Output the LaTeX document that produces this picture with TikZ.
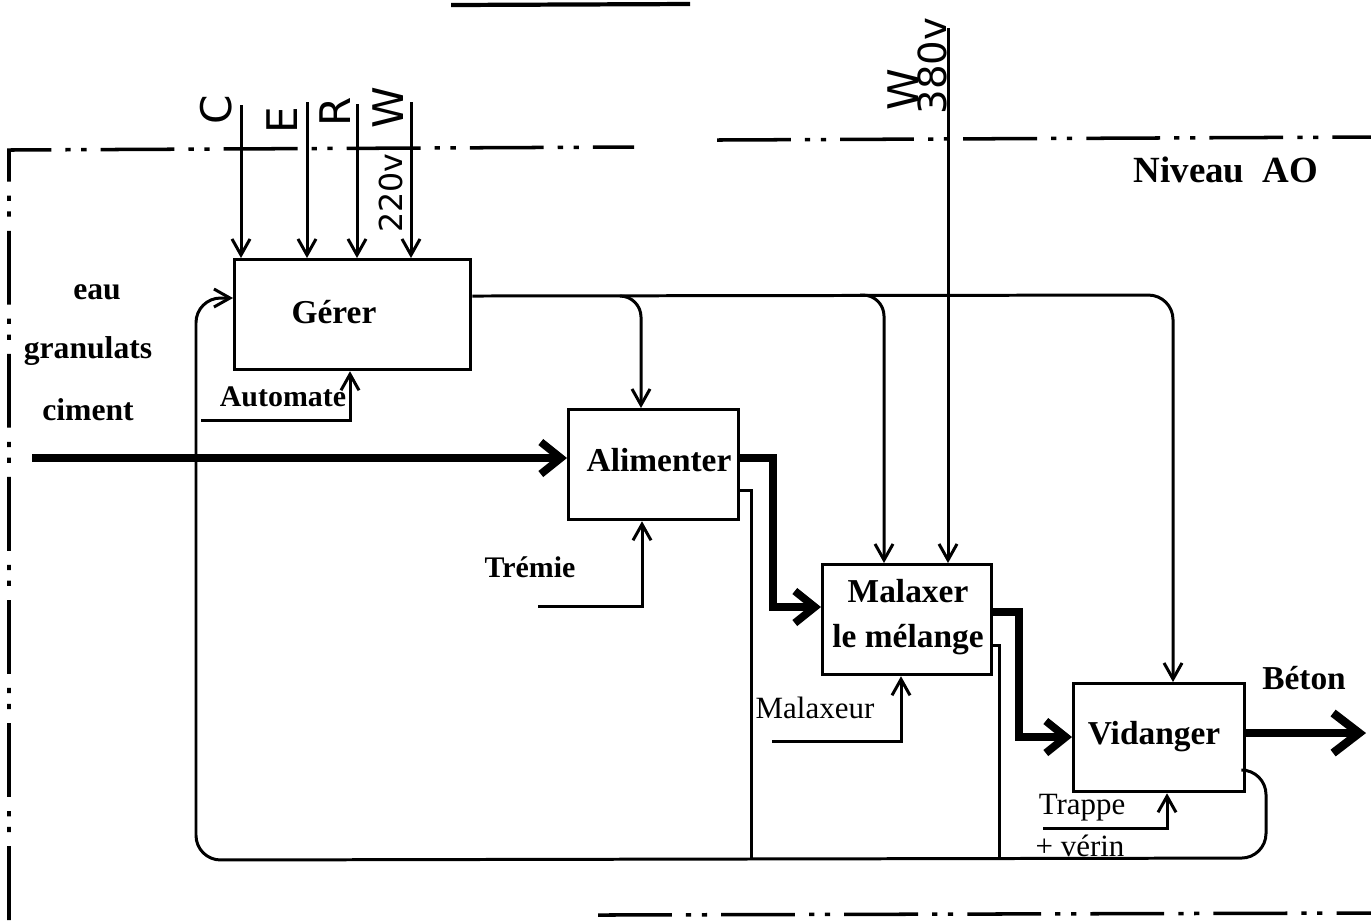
\documentclass[tikz,border=0pt]{standalone}
\usepackage{fontspec}
\setmainfont{Liberation Serif}
\newfontfamily\handfont{DejaVu Sans}
\usetikzlibrary{arrows.meta,calc}
\begin{document}
\begin{tikzpicture}[x=0.01cm,y=-0.01cm,
 box/.style={draw, line width=0.9pt, anchor=north west, inner sep=0pt, font=\bfseries\fontsize{9}{10.5}\selectfont, align=center},
 ctrl/.style={line width=0.85pt, -{Straight Barb[length=1.6mm,width=1.8mm]}},
 wire/.style={line width=0.85pt},
 flow/.style={line width=2.2pt, line join=miter, -{Straight Barb[length=2mm,width=3.2mm]}},
 frame/.style={line width=1pt, dash pattern=on 21pt off 4pt on 1.5pt off 3pt on 1.5pt off 4pt},
 lbl/.style={inner sep=0pt, font=\bfseries\fontsize{9}{10}\selectfont},
 mech/.style={inner sep=0pt, font=\fontsize{8.8}{10}\selectfont},
 hand/.style={inner sep=0pt, rotate=90, font=\handfont\fontsize{12}{12}\selectfont}]
\useasboundingbox (0,0) rectangle (1371,920);

% frame and stray title underline
\draw[line width=1.2pt] (451,5) -- (690,4);
\draw[frame] (9,920) -- (9,150) -- (634,147);
\draw[frame] (717,140) -- (1371,137);
\draw[frame] (598,915) -- (1371,913);

% boxes
\node[box, minimum width=2.36cm, minimum height=1.10cm] (ger) at (233,258) {};
\node[lbl, font=\bfseries\fontsize{9.5}{10}\selectfont] (tger) at (334,312) {Gérer};
\node[box, minimum width=1.70cm, minimum height=1.10cm] (ali) at (567,408) {};
\node[lbl, font=\bfseries\fontsize{9.5}{10}\selectfont] (tali) at (659,460) {Alimenter};
\node[box, minimum width=1.69cm, minimum height=1.10cm] (mal) at (821,563) {};
\node[lbl, align=center, font=\bfseries\fontsize{9.5}{13}\selectfont] (tmal) at (908,617) {Malaxer\\le mélange};
\node[box, minimum width=1.71cm, minimum height=1.08cm] (vid) at (1072,682) {};
\node[lbl, font=\bfseries\fontsize{9.5}{10}\selectfont] (tvid) at (1154,737) {Vidanger};

% controls on Gérer
\coordinate (cC) at (241,105);
\coordinate (cE) at (307,102);
\coordinate (cR) at (357,104);
\coordinate (cW) at (411,102);
\draw[ctrl] (cC) -- (cC |- ger.north);
\draw[ctrl] (cE) -- (cE |- ger.north);
\draw[ctrl] (cR) -- (cR |- ger.north);
\draw[ctrl] (cW) -- (cW |- ger.north);
\node[hand] (lC) at (216,110) {C};
\node[hand] (lE) at (282,120) {E};
\node[hand] (lR) at (335,112) {R};
\node[hand] (lW) at (388,108) {W};
\node[hand, font=\handfont\fontsize{9}{9}\selectfont] (l220) at (391,193) {220v};

% W 380v on Malaxer
\coordinate (w380) at (948,28);
\draw[ctrl] (w380) -- (w380 |- mal.north);
\node[hand] (lW2) at (903,90) {W};
\node[hand, font=\handfont\fontsize{11}{11}\selectfont] (l380) at (932,66) {380v};

% control line from Gérer
\coordinate (gout) at ($(ger.north east)+(0,38)$);
\coordinate (cv) at (1173,295);
\draw[ctrl, rounded corners=7pt] (gout) -- (cv) -- (cv |- vid.north);
\coordinate (ba0) at (620,296);
\coordinate (ba) at (641,296);
\draw[ctrl, rounded corners=6pt] (ba0) -- (ba) -- (ba |- ali.north);
\coordinate (bm0) at (860,295);
\coordinate (bm) at (884,295);
\draw[ctrl, rounded corners=6pt] (bm0) -- (bm) -- (bm |- mal.north);

% input
\coordinate (in) at (32,458);
\draw[flow] (in) -- (in -| ali.west);
\node[lbl] (leau) at (97,292) {eau};
\node[lbl] (lgra) at (88,351) {granulats};
\node[lbl] (lcim) at (88,410) {ciment};

% main flows
\coordinate (ao) at ($(ali.north east)+(0,50)$);
\coordinate (a1) at (773,607);
\draw[flow] (ao) -| (a1) -- (a1 -| mal.west);
\coordinate (mo) at ($(mal.north east)+(0,49)$);
\coordinate (m1) at (1019,737);
\draw[flow] (mo) -| (m1) -- (m1 -| vid.west);
\coordinate (vo) at ($(vid.north east)+(0,51)$);
\coordinate (beton) at (1366,733);
\draw[line width=2.4pt, -{Straight Barb[length=2.6mm,width=4mm]}] (vo) -- (beton);
\node[lbl, font=\bfseries\fontsize{9.5}{10}\selectfont] (lbet) at (1304,678) {Béton};

% feedback
\coordinate (af) at ($(ali.north east)+(0,82)$);
\coordinate (af2) at (751,860);
\draw[wire] (af) -| (af2);
\coordinate (mf) at ($(mal.north east)+(0,82)$);
\coordinate (mf2) at (999,860);
\draw[wire] (mf) -| (mf2);
\coordinate (vf) at ($(vid.north east)+(0,88)$);
\coordinate (fbR) at (1266,858);
\coordinate (fbL) at (196,860);
\coordinate (gin) at ($(ger.north west)+(0,40)$);
\draw[ctrl, rounded corners=7pt] (vf) -| (fbR) -- (fbL) |- (gin);

% mechanisms
\coordinate (ma) at (201,420);
\draw[ctrl] (ma) -| ($(ger.south west)+(117,0)$);
\node[lbl, font=\bfseries\fontsize{8.5}{10}\selectfont] (laut) at (283,397) {Automate};
\coordinate (mt) at (538,606);
\draw[ctrl] (mt) -| ($(ali.south west)+(75,0)$);
\node[lbl, font=\bfseries\fontsize{8.5}{10}\selectfont] (ltre) at (530,567) {Trémie};
\coordinate (mm) at (772,741);
\draw[ctrl] (mm) -| ($(mal.south west)+(80,0)$);
\node[mech] (lmal) at (815,708) {Malaxeur};
\coordinate (mv) at (1043,828);
\draw[ctrl] (mv) -| ($(vid.south west)+(95,0)$);
\node[mech] (ltra) at (1082,808) {Trappe};
\node[mech] (lver) at (1080,846) {+ vérin};

% Niveau
\node[lbl, font=\bfseries\fontsize{10.5}{12}\selectfont] (niv) at (1226,170) {Niveau\ \ AO};
\end{tikzpicture}
\end{document}
